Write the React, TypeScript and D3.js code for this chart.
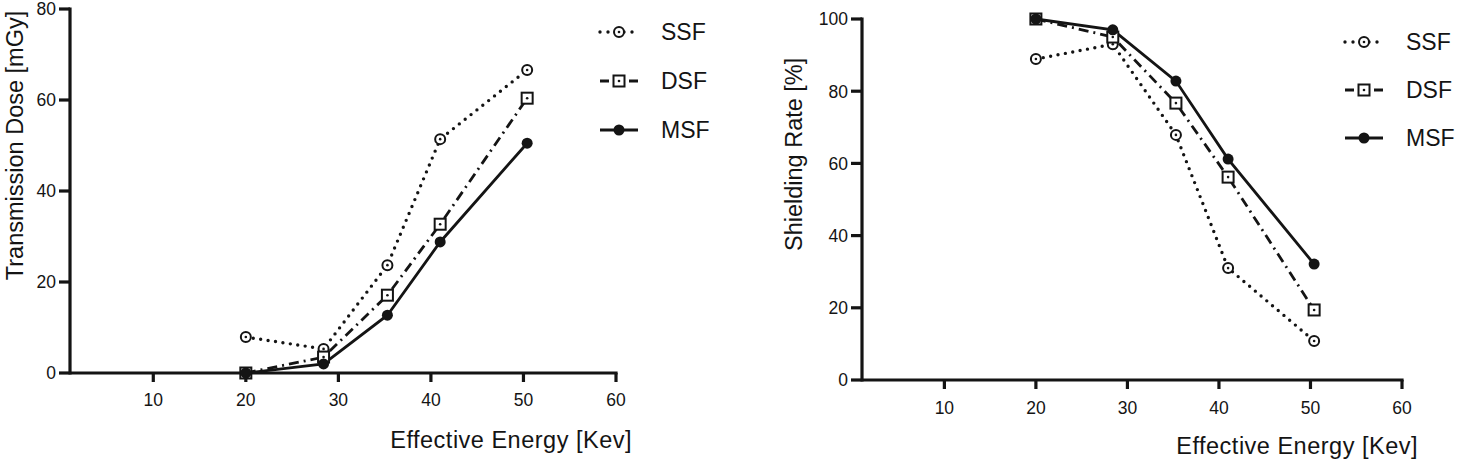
import React, { useEffect, useRef } from 'react';
import * as d3 from 'd3';

const energies = [20, 28.4, 35.3, 41, 50.4];
const seriesNames = ['SSF', 'DSF', 'MSF'];

// left panel: transmission dose
const doseSSF = [7.9, 5.3, 23.7, 51.4, 66.6];
const doseDSF = [0, 3.5, 17.1, 32.7, 60.4];
const doseMSF = [0, 2, 12.7, 28.8, 50.5];

// right panel: shielding rate
const rateSSF = [88.9, 93, 67.9, 31, 10.8];
const rateDSF = [100, 95, 76.7, 56.2, 19.4];
const rateMSF = [100, 97, 82.8, 61.2, 32.1];

const xTicks = [10, 20, 30, 40, 50, 60];
const doseTicks = [0, 20, 40, 60, 80];
const rateTicks = [0, 20, 40, 60, 80, 100];

const FONT = "'Liberation Sans', Arial, sans-serif";
const INK = '#141414';

interface PanelCfg {
  left: number;
  right: number;
  top: number;
  bottom: number;
  yMax: number;
  yTicks: number[];
  yTitle: string;
  yTitleX: number;
  xTitleY: number;
  xTickY: number;
  values: number[][];
  legendX: number;
  legendY: number[];
}

const dashFor: Record<string, string> = {
  SSF: '0 7.5',
  DSF: '10 5 2 5',
  MSF: '',
};

function drawMarker(g: d3.Selection<SVGGElement, unknown, null, undefined>, name: string, cx: number, cy: number) {
  if (name === 'SSF') {
    g.append('circle').attr('cx', cx).attr('cy', cy).attr('r', 5)
      .attr('fill', 'white').attr('stroke', INK).attr('stroke-width', 2);
    g.append('circle').attr('cx', cx).attr('cy', cy).attr('r', 1.3).attr('fill', INK);
  } else if (name === 'DSF') {
    g.append('rect').attr('x', cx - 5.5).attr('y', cy - 5.5).attr('width', 11).attr('height', 11)
      .attr('fill', 'white').attr('stroke', INK).attr('stroke-width', 2);
    g.append('circle').attr('cx', cx).attr('cy', cy).attr('r', 1.3).attr('fill', INK);
  } else {
    g.append('circle').attr('cx', cx).attr('cy', cy).attr('r', 5.5).attr('fill', INK);
  }
}

function drawPanel(svg: d3.Selection<SVGSVGElement, unknown, null, undefined>, cfg: PanelCfg) {
  const x = d3.scaleLinear().domain([1, 60]).range([cfg.left, cfg.right]);
  const y = d3.scaleLinear().domain([0, cfg.yMax]).range([cfg.bottom, cfg.top]);
  const g = svg.append('g');

  // axes
  g.append('line').attr('x1', x(1)).attr('x2', x(60) + 1.6).attr('y1', y(0)).attr('y2', y(0))
    .attr('stroke', INK).attr('stroke-width', 3.2);
  g.append('line').attr('x1', x(1)).attr('x2', x(1)).attr('y1', y(0) + 1.6).attr('y2', y(cfg.yMax) - 1.6)
    .attr('stroke', INK).attr('stroke-width', 3.2);

  xTicks.forEach(t => {
    g.append('line').attr('x1', x(t)).attr('x2', x(t)).attr('y1', y(0)).attr('y2', y(0) + 9)
      .attr('stroke', INK).attr('stroke-width', 3.2);
    g.append('text').attr('x', x(t)).attr('y', cfg.xTickY).attr('text-anchor', 'middle')
      .attr('font-size', 17.5).attr('fill', INK).text(t);
  });
  cfg.yTicks.forEach(t => {
    g.append('line').attr('x1', x(1) - 11).attr('x2', x(1)).attr('y1', y(t)).attr('y2', y(t))
      .attr('stroke', INK).attr('stroke-width', 3.2);
    g.append('text').attr('x', x(1) - 14).attr('y', y(t)).attr('dy', '0.36em').attr('text-anchor', 'end')
      .attr('font-size', 17.5).attr('fill', INK).text(t);
  });

  g.append('text')
    .attr('transform', `translate(${cfg.yTitleX},${(cfg.top + y(cfg.yMax * 0.25)) / 2}) rotate(-90)`)
    .attr('text-anchor', 'middle').attr('dy', '0.36em')
    .attr('font-size', 23.5).attr('fill', INK).text(cfg.yTitle);

  g.append('text').attr('x', cfg.right + 16).attr('y', cfg.xTitleY).attr('text-anchor', 'end')
    .attr('font-size', 23.5).attr('fill', INK).attr('letter-spacing', 0.5)
    .text('Effective Energy [Kev]');

  // series
  const line = d3.line<number>().x((_, i) => x(energies[i])).y(d => y(d));
  seriesNames.forEach((name, si) => {
    g.append('path').attr('d', line(cfg.values[si]))
      .attr('fill', 'none').attr('stroke', INK)
      .attr('stroke-width', name === 'SSF' ? 3.4 : 2.8)
      .attr('stroke-linecap', name === 'SSF' ? 'round' : 'butt')
      .attr('stroke-dasharray', dashFor[name] || null);
  });
  seriesNames.forEach((name, si) => {
    const mg = g.append('g');
    cfg.values[si].forEach((v, i) => drawMarker(mg, name, x(energies[i]), y(v)));
  });

  // legend
  seriesNames.forEach((name, si) => {
    const ly = cfg.legendY[si];
    const lx = cfg.legendX;
    const lg = g.append('g');
    lg.append('line').attr('x1', lx).attr('x2', lx + 38).attr('y1', ly).attr('y2', ly)
      .attr('stroke', INK).attr('stroke-width', name === 'SSF' ? 3.4 : 3.2)
      .attr('stroke-linecap', name === 'SSF' ? 'round' : 'butt')
      .attr('stroke-dasharray', name === 'SSF' ? '0 8' : name === 'DSF' ? '9 5 10 5' : null);
    drawMarker(lg, name, lx + 19, ly);
    lg.append('text').attr('x', lx + 61).attr('y', ly).attr('dy', '0.36em')
      .attr('font-size', 23).attr('fill', INK).text(name);
  });
}

export default function App() {
  const svgRef = useRef<SVGSVGElement>(null);

  useEffect(() => {
    if (!svgRef.current) return;
    const svg = d3.select(svgRef.current);
    svg.selectAll('*').remove();
    svg.attr('font-family', FONT);

    drawPanel(svg, {
      left: 70, right: 616, top: 9, bottom: 373,
      yMax: 80, yTicks: doseTicks, yTitle: 'Transmission Dose [mGy]', yTitleX: 15,
      xTitleY: 448, xTickY: 406,
      values: [doseSSF, doseDSF, doseMSF],
      legendX: 600, legendY: [32, 81, 130],
    });
    drawPanel(svg, {
      left: 862, right: 1402, top: 19, bottom: 380,
      yMax: 100, yTicks: rateTicks, yTitle: 'Shielding Rate [%]', yTitleX: 794,
      xTitleY: 454, xTickY: 414,
      values: [rateSSF, rateDSF, rateMSF],
      legendX: 1345, legendY: [42, 90, 138],
    });
  }, []);

  return (
    <svg ref={svgRef} width={1463} height={463}
      style={{ position: 'absolute', left: 0, top: 0, background: 'white' }} />
  );
}
